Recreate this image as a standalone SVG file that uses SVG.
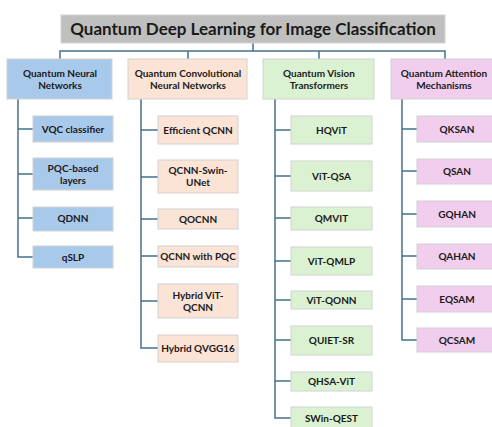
<svg xmlns="http://www.w3.org/2000/svg" width="492" height="427" viewBox="0 0 492 427">
  <style>
    .box { stroke: #d2d2d2; stroke-width: 1; }
    .title { fill: #bfbfbf; }
    .blue { fill: #a9c9eb; }
    .peach { fill: #fbe3d6; }
    .green { fill: #dbf2d2; }
    .pink { fill: #f1cdee; }
    text { font-family: Lato, "Liberation Sans", sans-serif; font-weight: bold; fill: #1a1a1a; text-anchor: middle; font-size: 10px; }
    text.head { font-size: 17px; }
    .wire { fill: none; stroke: #45718c; stroke-width: 1.5; }
  </style>

  <!-- connectors -->
  <g id="connectors" class="wire">
    <path d="M253 43 V51 M60 59 V51 H445 V59 M188 51 V59 M319 51 V59"/>
    <path d="M18 99 V257 H33 M18 129 H33 M18 174 H33 M18 218 H33"/>
    <path d="M141 99 V348 H158 M141 130 H158 M141 177 H158 M141 219 H158 M141 256 H158 M141 301 H158"/>
    <path d="M275 99 V418 H291 M275 130 H291 M275 176 H291 M275 218 H291 M275 261 H291 M275 300 H291 M275 340 H291 M275 381 H291"/>
    <path d="M402 99 V340 H417 M402 129 H417 M402 171 H417 M402 214 H417 M402 256 H417 M402 299 H417"/>
  </g>

  <!-- root -->
  <g id="root">
    <rect class="box title" x="61" y="15" width="384" height="28"/>
    <text class="head" x="253" y="35">Quantum Deep Learning for Image Classification</text>
  </g>

  <!-- categories -->
  <g id="cat-qnn">
    <rect class="box blue" x="7" y="59" width="105" height="40"/>
    <text x="60" y="77">Quantum Neural</text>
    <text x="60" y="89">Networks</text>
  </g>
  <g id="cat-qcnn">
    <rect class="box peach" x="128" y="59" width="119" height="40"/>
    <text x="188" y="77">Quantum Convolutional</text>
    <text x="188" y="89">Neural Networks</text>
  </g>
  <g id="cat-qvit">
    <rect class="box green" x="263" y="59" width="111" height="40"/>
    <text x="319" y="77">Quantum Vision</text>
    <text x="319" y="89">Transformers</text>
  </g>
  <g id="cat-qam">
    <rect class="box pink" x="391" y="59" width="106" height="40"/>
    <text x="444" y="77">Quantum Attention</text>
    <text x="444" y="89">Mechanisms</text>
  </g>

  <!-- Quantum Neural Networks -->
  <g id="vqc">
    <rect class="box blue" x="33" y="116" width="80" height="26"/>
    <text x="73" y="132.5">VQC classifier</text>
  </g>
  <g id="pqc">
    <rect class="box blue" x="33" y="158" width="80" height="32"/>
    <text x="73" y="171.5">PQC-based</text>
    <text x="73" y="183.5">layers</text>
  </g>
  <g id="qdnn">
    <rect class="box blue" x="33" y="207" width="80" height="24"/>
    <text x="73" y="222">QDNN</text>
  </g>
  <g id="qslp">
    <rect class="box blue" x="33" y="246" width="80" height="22"/>
    <text x="73" y="260.5">qSLP</text>
  </g>

  <!-- Quantum Convolutional Neural Networks -->
  <g id="efficient-qcnn">
    <rect class="box peach" x="158" y="116" width="80" height="28"/>
    <text x="198" y="133.5">Efficient QCNN</text>
  </g>
  <g id="qcnn-swin-unet">
    <rect class="box peach" x="158" y="160" width="80" height="33"/>
    <text x="198" y="174">QCNN-Swin-</text>
    <text x="198" y="186">UNet</text>
  </g>
  <g id="qocnn">
    <rect class="box peach" x="158" y="209" width="80" height="20"/>
    <text x="198" y="222.5">QOCNN</text>
  </g>
  <g id="qcnn-pqc">
    <rect class="box peach" x="158" y="246" width="80" height="21"/>
    <text x="198" y="260">QCNN with PQC</text>
  </g>
  <g id="hybrid-vit-qcnn">
    <rect class="box peach" x="158" y="284" width="80" height="34"/>
    <text x="198" y="298.5">Hybrid ViT-</text>
    <text x="198" y="310.5">QCNN</text>
  </g>
  <g id="hybrid-qvgg16">
    <rect class="box peach" x="158" y="335" width="80" height="27"/>
    <text x="198" y="352">Hybrid QVGG16</text>
  </g>

  <!-- Quantum Vision Transformers -->
  <g id="hqvit">
    <rect class="box green" x="291" y="116" width="81" height="28"/>
    <text x="331.5" y="133.5">HQViT</text>
  </g>
  <g id="vit-qsa">
    <rect class="box green" x="291" y="161" width="81" height="30"/>
    <text x="331.5" y="179.5">ViT-QSA</text>
  </g>
  <g id="qmvit">
    <rect class="box green" x="291" y="207" width="81" height="23"/>
    <text x="331.5" y="222">QMVIT</text>
  </g>
  <g id="vit-qmlp">
    <rect class="box green" x="291" y="247" width="81" height="28"/>
    <text x="331.5" y="264.5">ViT-QMLP</text>
  </g>
  <g id="vit-qonn">
    <rect class="box green" x="291" y="291" width="81" height="18"/>
    <text x="331.5" y="303.5">ViT-QONN</text>
  </g>
  <g id="quiet-sr">
    <rect class="box green" x="291" y="326" width="81" height="29"/>
    <text x="331.5" y="343.5">QUIET-SR</text>
  </g>
  <g id="qhsa-vit">
    <rect class="box green" x="291" y="372" width="81" height="19"/>
    <text x="331.5" y="384.5">QHSA-ViT</text>
  </g>
  <g id="swin-qest">
    <rect class="box green" x="291" y="407" width="81" height="24"/>
    <text x="331.5" y="421.5">SWin-QEST</text>
  </g>

  <!-- Quantum Attention Mechanisms -->
  <g id="qksan">
    <rect class="box pink" x="417" y="116" width="80" height="26"/>
    <text x="457" y="132.5">QKSAN</text>
  </g>
  <g id="qsan">
    <rect class="box pink" x="417" y="159" width="80" height="25"/>
    <text x="457" y="174.5">QSAN</text>
  </g>
  <g id="gqhan">
    <rect class="box pink" x="417" y="201" width="80" height="26"/>
    <text x="457" y="217.5">GQHAN</text>
  </g>
  <g id="qahan">
    <rect class="box pink" x="417" y="244" width="80" height="25"/>
    <text x="457" y="259.5">QAHAN</text>
  </g>
  <g id="eqsam">
    <rect class="box pink" x="417" y="286" width="80" height="26"/>
    <text x="457" y="302.5">EQSAM</text>
  </g>
  <g id="qcsam">
    <rect class="box pink" x="417" y="328" width="80" height="24"/>
    <text x="457" y="343.5">QCSAM</text>
  </g>
</svg>
